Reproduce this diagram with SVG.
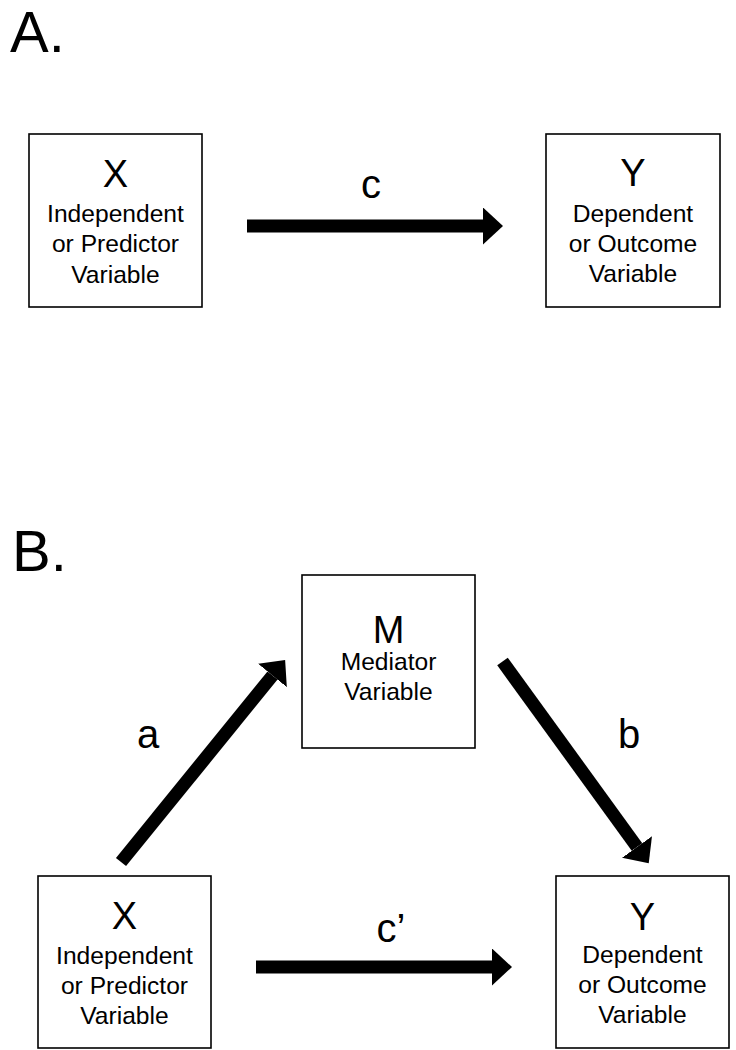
<svg xmlns="http://www.w3.org/2000/svg" width="736" height="1050" viewBox="0 0 736 1050">
<style>
.box{fill:#fff;stroke:#000;stroke-width:1.6}
.big{font-family:"Liberation Sans",Arial,sans-serif;font-size:38px;text-anchor:middle;fill:#000}
.sub{font-family:"Liberation Sans",Arial,sans-serif;font-size:24.6px;text-anchor:middle;fill:#000}
.lbl{font-family:"Liberation Sans",Arial,sans-serif;font-size:40px;text-anchor:middle;fill:#000}
.panel{font-family:"Liberation Sans",Arial,sans-serif;font-size:58px;fill:#000}
.conn{stroke:#000;stroke-width:13;fill:none;marker-end:url(#head)}
</style>
<defs>
<marker id="head" markerUnits="userSpaceOnUse" markerWidth="22" markerHeight="38" refX="0" refY="18.5" orient="auto" viewBox="0 0 22 38">
<path d="M0,0 L20,18.5 L0,37 Z" fill="#000"/>
</marker>
</defs>
<rect width="736" height="1050" fill="#fff"/>
<text class="panel" x="10" y="52">A.</text>
<text class="panel" x="12" y="571">B.</text>
<g id="connectors">
<line class="conn" x1="247" y1="226" x2="483" y2="226"/>
<line class="conn" x1="121" y1="862" x2="272.5" y2="675.5"/>
<line class="conn" x1="502.5" y1="661.5" x2="637" y2="847"/>
<line class="conn" x1="256" y1="967" x2="492" y2="967"/>
<text class="lbl" x="371" y="198">c</text>
<text class="lbl" x="148" y="748">a</text>
<text class="lbl" x="629" y="748">b</text>
<text class="lbl" x="391" y="942">c’</text>
</g>
<g id="nodeA_X">
<rect class="box" x="29" y="134" width="173" height="173"/>
<text class="big" x="115.5" y="187">X</text>
<text class="sub" x="115.5" y="222">Independent</text>
<text class="sub" x="115.5" y="252">or Predictor</text>
<text class="sub" x="115.5" y="283">Variable</text>
</g>
<g id="nodeA_Y">
<rect class="box" x="546" y="134" width="174" height="173"/>
<text class="big" x="633" y="186">Y</text>
<text class="sub" x="633" y="222">Dependent</text>
<text class="sub" x="633" y="252">or Outcome</text>
<text class="sub" x="633" y="282">Variable</text>
</g>
<g id="nodeB_M">
<rect class="box" x="302" y="575" width="173" height="173"/>
<text class="big" x="388.5" y="643">M</text>
<text class="sub" x="388.5" y="670">Mediator</text>
<text class="sub" x="388.5" y="700">Variable</text>
</g>
<g id="nodeB_X">
<rect class="box" x="38" y="876" width="173" height="172"/>
<text class="big" x="124.5" y="929">X</text>
<text class="sub" x="124.5" y="964">Independent</text>
<text class="sub" x="124.5" y="994">or Predictor</text>
<text class="sub" x="124.5" y="1024">Variable</text>
</g>
<g id="nodeB_Y">
<rect class="box" x="556" y="876" width="173" height="172"/>
<text class="big" x="642.5" y="930">Y</text>
<text class="sub" x="642.5" y="963">Dependent</text>
<text class="sub" x="642.5" y="993">or Outcome</text>
<text class="sub" x="642.5" y="1023">Variable</text>
</g>
</svg>
